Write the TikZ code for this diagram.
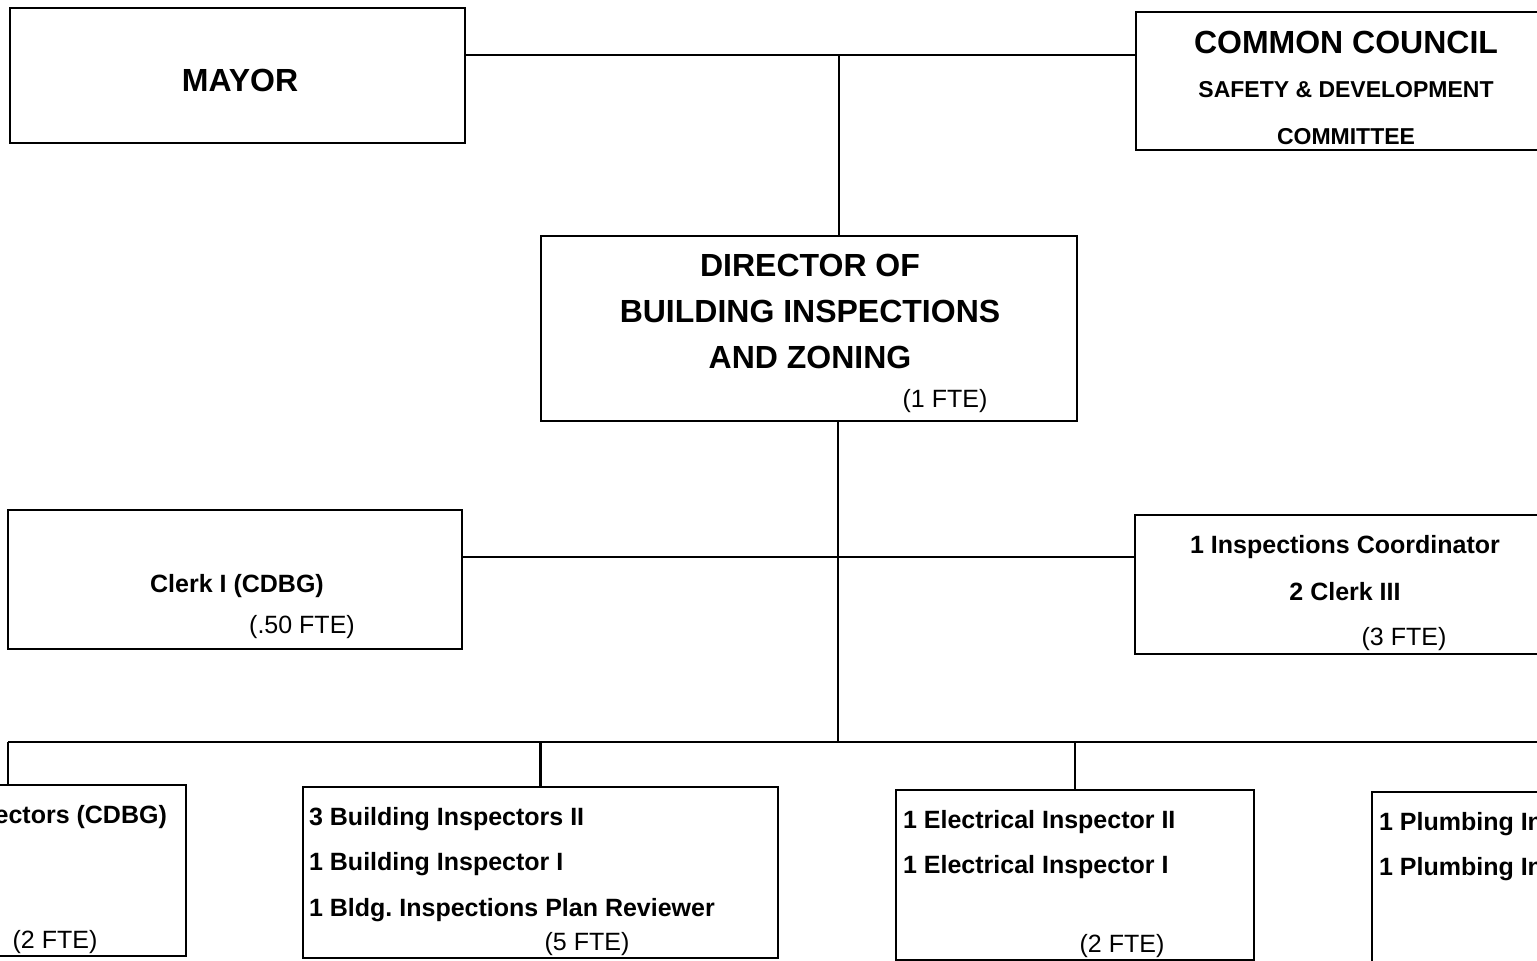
\documentclass[tikz,border=0pt]{standalone}
\usepackage{fontspec}
\setmainfont{Liberation Sans}

\begin{document}
\begin{tikzpicture}[x=1pt,y=-1pt,line width=2.2pt]
    \tikzstyle{unit}=[draw,rectangle,inner sep=0pt,outer sep=0pt]
    \tikzstyle{big}=[font=\fontsize{32}{36}\selectfont\bfseries,inner sep=0pt]
    \tikzstyle{mid}=[font=\fontsize{23}{27}\selectfont\bfseries,inner sep=0pt]
    \tikzstyle{small}=[font=\fontsize{25}{29}\selectfont\bfseries,inner sep=0pt]
    \tikzstyle{fte}=[font=\fontsize{25}{29}\selectfont,inner sep=0pt]

    \clip (0,0) rectangle (1537,961);

    % Boxes
    \node[unit,minimum width=455pt,minimum height=135pt] (mayor) at (237.5,75.5) {};
    \node[unit,minimum width=434pt,minimum height=138pt] (council) at (1353,81) {};
    \node[unit,minimum width=536pt,minimum height=185pt] (director) at (809,328.5) {};
    \node[unit,minimum width=454pt,minimum height=139pt] (clerk) at (235,579.5) {};
    \node[unit,minimum width=435pt,minimum height=139pt] (coord) at (1352.5,584.5) {};
    \node[unit,minimum width=286pt,minimum height=171pt] (cdbg) at (43,870.5) {};
    \node[unit,minimum width=475pt,minimum height=171pt] (bldg) at (540.5,872.5) {};
    \node[unit,minimum width=358pt,minimum height=170pt] (elec) at (1075,875) {};
    \node[unit,minimum width=268pt,minimum height=170pt] (plumb) at (1506,877) {};

    % Texts
    \node[big] (mayor-t) at (240,80) {MAYOR};

    \node[big] (council-1) at (1346,42) {COMMON COUNCIL};
    \node[mid] (council-2) at (1346,90) {SAFETY \& DEVELOPMENT};
    \node[mid] (council-3) at (1346,137) {COMMITTEE};

    \node[big] (director-1) at (810,265) {DIRECTOR OF};
    \node[big] (director-2) at (810,311) {BUILDING INSPECTIONS};
    \node[big] (director-3) at (810,357) {AND ZONING};
    \node[fte] (director-f) at (945,401) {(1 FTE)};

    \node[small] (clerk-1) at (237,586) {Clerk I (CDBG)};
    \node[fte] (clerk-f) at (302,627) {(.50 FTE)};

    \node[small] (coord-1) at (1345,547) {1 Inspections Coordinator};
    \node[small] (coord-2) at (1345,592) {2 Clerk III};
    \node[fte] (coord-f) at (1404,639) {(3 FTE)};

    \node[small,anchor=east] (cdbg-1) at (168,817) {ectors (CDBG)};
    \node[fte] (cdbg-f) at (55,942) {(2 FTE)};

    \node[small,anchor=west] (bldg-1) at (308,819) {3 Building Inspectors II};
    \node[small,anchor=west] (bldg-2) at (308,864) {1 Building Inspector I};
    \node[small,anchor=west] (bldg-3) at (308,910) {1 Bldg.\ Inspections Plan Reviewer};
    \node[fte] (bldg-f) at (587,944) {(5 FTE)};

    \node[small,anchor=west] (elec-1) at (902,822) {1 Electrical Inspector II};
    \node[small,anchor=west] (elec-2) at (902,867) {1 Electrical Inspector I};
    \node[fte] (elec-f) at (1122,946) {(2 FTE)};

    \node[small,anchor=west] (plumb-1) at (1378,824) {1 Plumbing In};
    \node[small,anchor=west] (plumb-2) at (1378,869) {1 Plumbing In};

    % Links
    \coordinate (top) at (839,55);
    \coordinate (mid) at (838,557);
    \coordinate (bus) at (838,742);
    \coordinate (busL) at (8,742);
    \coordinate (busR) at (1560,742);

    \draw (mayor.east |- top) -- (council.west |- top);
    \draw (top) -- (top |- director.north);
    \draw (bus |- director.south) -- (bus);
    \draw (clerk.east |- mid) -- (coord.west |- mid);
    \draw (busL) -- (busR);
    \draw (busL) -- (busL |- cdbg.north);
    \draw (bldg.north |- bus) -- (bldg.north);
    \draw (elec.north |- bus) -- (elec.north);
\end{tikzpicture}
\end{document}
